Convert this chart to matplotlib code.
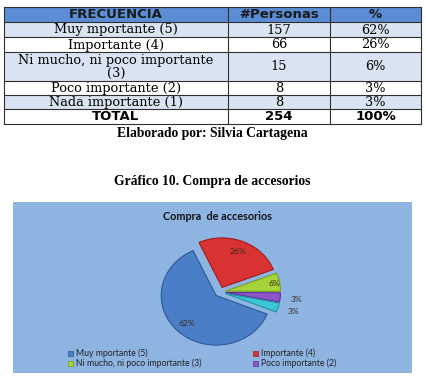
import matplotlib
matplotlib.use("Agg")
import matplotlib.pyplot as plt
import numpy as np

# table data
frecuencia = ["Muy mportante (5)", "Importante (4)", "Ni mucho, ni poco importante\n(3)",
              "Poco importante (2)", "Nada importante (1)"]
personas = [157, 66, 15, 8, 8]
porcentaje = ["62%", "26%", "6%", "3%", "3%"]
total_personas = 254
total_pct = "100%"
header = ["FRECUENCIA", "#Personas", "%"]

# pie data
pie_labels = ["Muy mportante (5)", "Importante (4)", "Ni mucho, ni poco importante (3)",
              "Poco importante (2)", "Nada importante (1)"]
pie_values = [62, 26, 6, 3, 3]
pie_colors = ["#4a7ec6", "#d93232", "#a6d23a", "#8c55c8", "#3cc6d6"]
pie_edges = ["#2c5a9a", "#a01e1e", "#76a020", "#5e2f96", "#1e93a3"]

W, H = 427, 379
fig = plt.figure(figsize=(W / 100, H / 100), dpi=100)
bg = fig.add_axes([0, 0, 1, 1])
bg.set_xlim(0, W)
bg.set_ylim(H, 0)
bg.axis("off")

# ---- table ----
col_x = [4, 228, 330, 421]
row_y = [7, 22, 37, 52, 81, 95, 109, 124]
row_bg = ["#5a8dd4", "#d9e3f1", "white", "#d9e3f1", "white", "#d9e3f1", "white"]
for i in range(len(row_y) - 1):
    bg.add_patch(plt.Rectangle((col_x[0], row_y[i]), col_x[-1] - col_x[0],
                               row_y[i + 1] - row_y[i], facecolor=row_bg[i],
                               edgecolor="none"))
for y in row_y:
    bg.plot([col_x[0], col_x[-1]], [y, y], color="#303030", lw=0.8)
for x in col_x:
    bg.plot([x, x], [row_y[0], row_y[-1]], color="#303030", lw=0.8)

centers = [(col_x[j] + col_x[j + 1]) / 2 for j in range(3)]
for j, h in enumerate(header):
    bg.text(centers[j], (row_y[0] + row_y[1]) / 2 + 0.5, h, ha="center", va="center",
            fontsize=9.5, fontweight="bold", family="DejaVu Sans", color="#1a1a1a")
for i in range(len(frecuencia)):
    yc = (row_y[i + 1] + row_y[i + 2]) / 2 + 0.5
    bg.text(centers[0], yc, frecuencia[i], ha="center", va="center", fontsize=9.3,
            family="DejaVu Serif", linespacing=0.95)
    bg.text(centers[1], yc, str(personas[i]), ha="center", va="center", fontsize=9.3,
            family="DejaVu Serif")
    bg.text(centers[2], yc, porcentaje[i], ha="center", va="center", fontsize=9.3,
            family="DejaVu Serif")
yc = (row_y[-2] + row_y[-1]) / 2 + 0.5
for j, t in enumerate(["TOTAL", str(total_personas), total_pct]):
    bg.text(centers[j], yc, t, ha="center", va="center", fontsize=9.5,
            fontweight="bold", family="DejaVu Sans")

bg.text(212, 133, "Elaborado por: Silvia Cartagena", ha="center", va="center",
        fontsize=9.8, fontweight="bold", family="Liberation Serif")
bg.text(212, 181, "Gráfico 10. Compra de accesorios", ha="center", va="center",
        fontsize=9.8, fontweight="bold", family="Liberation Serif")

# ---- chart box ----
bg.add_patch(plt.Rectangle((13, 202), 399, 171, facecolor="#8eb4e2", edgecolor="none"))
bg.text(218, 217, "Compra  de accesorios", ha="center", va="center", fontsize=7.8,
        fontweight="bold", family="Lato", color="#111111")

# legend
leg_pos = [(71, 353), (256, 353), (71, 363), (256, 363)]
for k, (lx, ly) in enumerate(leg_pos):
    bg.add_patch(plt.Rectangle((lx - 2.5, ly - 2.5), 5, 5, facecolor=pie_colors[k],
                               edgecolor=pie_edges[k], lw=0.5))
    bg.text(lx + 5, ly, pie_labels[k], ha="left", va="center", fontsize=6.2,
            family="Lato", color="#222222")

# ---- pie (slightly flattened like the 3D original) ----
cx, cy, r = 220, 292, 55
half = 1.25 * r
pax = fig.add_axes([(cx - half) / W, (H - cy - 0.9 * half) / H, 2 * half / W, 1.8 * half / H])
pax.axis("off")
wedges, _ = pax.pie(pie_values, colors=pie_colors, startangle=-22, counterclock=False,
                    explode=[0.1] * 5, wedgeprops=dict(linewidth=0.8))
pax.set_xlim(-1.25, 1.25)
pax.set_ylim(-1.25, 1.25)
pax.set_aspect("auto")
for w, ec in zip(wedges, pie_edges):
    w.set_edgecolor(ec)
for k, w in enumerate(wedges):
    mid = np.deg2rad((w.theta1 + w.theta2) / 2)
    d = 0.78 if pie_values[k] > 10 else (0.9 if pie_values[k] > 4 else 1.3)
    ex = 0.1
    pax.text((d + ex) * np.cos(mid), (d + ex) * np.sin(mid), porcentaje[k],
             ha="center", va="center", fontsize=6, family="Lato", color="#3a2a1a")

fig.savefig("out.png", dpi=100)
